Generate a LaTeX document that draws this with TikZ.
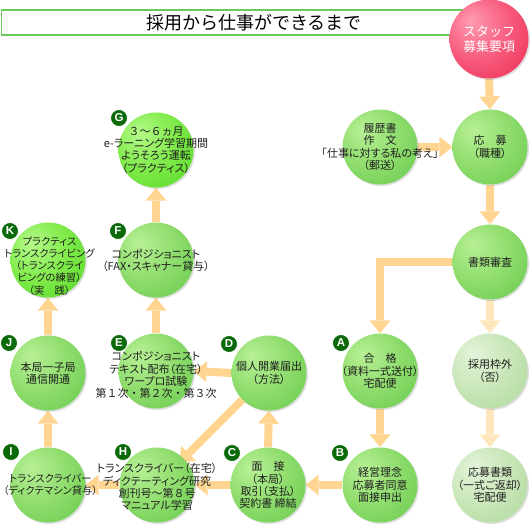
\documentclass[tikz,border=0pt]{standalone}
\usepackage{fontspec}
\setmainfont{Noto Sans CJK JP}
\newfontfamily\jpp[RawFeature=+palt]{Noto Sans CJK JP}
\newfontfamily\jpf{Noto Sans CJK JP}
\newfontfamily\badgefont{Liberation Sans}
\usetikzlibrary{arrows.meta,shadows,backgrounds}
\definecolor{g1}{HTML}{B8F096}
\definecolor{g2}{HTML}{8EDC6C}
\definecolor{g3}{HTML}{55C23E}
\definecolor{b1}{HTML}{B6FA8A}
\definecolor{b2}{HTML}{7EEA48}
\definecolor{b3}{HTML}{44D018}
\definecolor{p1}{HTML}{E4F4DA}
\definecolor{p2}{HTML}{C8E6B8}
\definecolor{p3}{HTML}{A2D28C}
\definecolor{r1}{HTML}{FF9AB0}
\definecolor{r2}{HTML}{F75A7C}
\definecolor{r3}{HTML}{E8163E}
\definecolor{arrc}{HTML}{FFD591}
\definecolor{arrp}{HTML}{FFE6BC}
\definecolor{badgec}{HTML}{0A6A0A}
\definecolor{framec}{HTML}{66CC55}
\pgfdeclareradialshading{gball}{\pgfpoint{-12bp}{12bp}}{color(0bp)=(g1); color(22bp)=(g2); color(52bp)=(g3); color(70bp)=(g3)}
\pgfdeclareradialshading{bball}{\pgfpoint{-12bp}{12bp}}{color(0bp)=(b1); color(22bp)=(b2); color(52bp)=(b3); color(70bp)=(b3)}
\pgfdeclareradialshading{pball}{\pgfpoint{-12bp}{12bp}}{color(0bp)=(p1); color(22bp)=(p2); color(52bp)=(p3); color(70bp)=(p3)}
\pgfdeclareradialshading{rball}{\pgfpoint{-12bp}{12bp}}{color(0bp)=(r1); color(22bp)=(r2); color(52bp)=(r3); color(70bp)=(r3)}
\tikzset{
  ballbase/.style={circle, minimum size=75pt, inner sep=0pt, shade,
    drop shadow={shadow xshift=1.5pt, shadow yshift=-1.5pt, opacity=0.25}},
  gball/.style={ballbase, shading=gball},
  bball/.style={ballbase, shading=bball},
  pball/.style={ballbase, shading=pball},
  rball/.style={ballbase, shading=rball, minimum size=79pt},
  txt/.style={align=center, font=\jpp\fontsize{11}{12.2}\selectfont, text=black!88, inner sep=0pt},
  txtsmall/.style={txt, font=\jpp\fontsize{10.3}{12.2}\selectfont},
  badge/.style={circle, fill=badgec, draw=white, line width=0.8pt, minimum size=17pt,
    inner sep=0pt, text=white, font=\badgefont\bfseries\fontsize{11.5}{11.5}\selectfont},
  arr/.style={draw=arrc, line width=8pt, -{Triangle[width=21pt,length=13pt,line width=0pt]}},
  arrpale/.style={arr, draw=arrp},
}
\begin{document}
\begin{tikzpicture}[x=1pt,y=-1pt]
\useasboundingbox (0,0) rectangle (530,526);
% title
\node[draw=framec, line width=1.2pt, minimum width=510pt, minimum height=25pt, inner sep=0pt,
  anchor=west] (title) at (0.6,22.5) {};
\node[font=\fontsize{18}{18}\selectfont, inner sep=0pt] (titletxt) at (254,22.5) {採用から仕事ができるまで};
% circles
\node[rball] (boshu) at (489,39) {};
\node[gball] (rireki) at (380,147) {};
\node[gball] (oubo) at (490,147) {};
\node[gball] (shorui) at (490,262) {};
\node[pball] (waku) at (490,371) {};
\node[pball] (henkyaku) at (490,485) {};
\node[gball] (gokaku) at (380,371) {};
\node[gball] (keiei) at (380,485) {};
\node[gball] (mensetsu) at (268,485) {};
\node[gball] (kaigyo) at (269,373) {};
\node[gball] (textc) at (156,371) {};
\node[gball] (compo) at (156,260) {};
\node[bball] (elearn) at (156,150) {};
\node[gball] (trans) at (157,485) {};
\node[gball] (transk) at (48,485) {};
\node[gball] (tsushin) at (48,373) {};
\node[bball] (practice) at (48,260) {};
% arrows
\begin{scope}[on background layer]
\draw[arr] (boshu.south) -- (oubo.north);
\draw[arr] (rireki.east) -- (oubo.west);
\draw[arr] (oubo.south) -- (shorui.north);
\draw[arr] (shorui.west) -| (gokaku.north);
\draw[arrpale] (shorui.south) -- (waku.north);
\draw[arrpale] (waku.south) -- (henkyaku.north);
\draw[arr] (gokaku.south) -- (keiei.north);
\draw[arr] (keiei.west) -- (mensetsu.east);
\draw[arr] (mensetsu.north) -- (kaigyo.south);
\draw[arr] (kaigyo.west) -- (textc.east);
\draw[arr, shorten >=-6pt] (kaigyo.south west) -- (trans.north east);
\draw[arr] (mensetsu.west) -- (trans.east);
\draw[arr] (trans.west) -- (transk.east);
\draw[arr] (transk.north) -- (tsushin.south);
\draw[arr] (tsushin.north) -- (practice.south);
\draw[arr] (textc.north) -- (compo.south);
\draw[arr] (compo.north) -- (elearn.south);
\end{scope}
% texts
\node[txt, text=white, font=\fontsize{13}{15}\selectfont] (tboshu) at (boshu.center) {スタッフ\\募集要項};
\node[txt] (trireki) at (rireki.center) {履歴書\\作　文\\「仕事に対する私の考え」\\（郵送）};
\node[txt] (toubo) at (oubo.center) {応　募\\（職種）};
\node[txt] (tshorui) at (shorui.center) {書類審査};
\node[txt] (twaku) at (waku.center) {採用枠外\\（否）};
\node[txt] (thenkyaku) at (henkyaku.center) {応募書類\\（一式ご返却）\\宅配便};
\node[txt] (tgokaku) at (gokaku.center) {合　格\\（資料一式送付）\\宅配便};
\node[txt] (tkeiei) at (keiei.center) {経営理念\\応募者同意\\面接申出};
\node[txt] (tmensetsu) at (mensetsu.center) {面　接\\（本局）\\取引（支払）\\契約書 締結};
\node[txt] (tkaigyo) at (kaigyo.center) {個人開業届出\\（方法）};
\node[txt] (ttextc) at ([yshift=-4pt]textc.center) {コンポジショニスト\\テキスト配布（在宅）\\ワープロ試験\\{\jpf 第１次・第２次・第３次}};
\node[txt] (tcompo) at (compo.center) {コンポジショニスト\\（FAX・スキャナー貸与）};
\node[txt] (telearn) at (elearn.center) {{\jpf ３～６ヵ月}\\e-ラーニング学習期間\\ようそろう運転\\（プラクティス）};
\node[txt] (ttrans) at ([yshift=-2pt]trans.center) {トランスクライバー（在宅）\\ディクテーティング研究\\{\jpf 創刊号～第８号}\\マニュアル学習};
\node[txtsmall] (ttransk) at ([xshift=2.5pt]transk.center) {トランスクライバー\\（ディクテマシン貸与）};
\node[txt] (ttsushin) at (tsushin.center) {本局一子局\\通信開通};
\node[txtsmall] (tpractice) at ([xshift=1.5pt,yshift=-6pt]practice.center) {プラクティス\\トランスクライビング\\（トランスクライ\\ビングの練習）\\（実　践）};
% badges
\node[badge] (bA) at (341,343) {A};
\node[badge] (bB) at (340,453) {B};
\node[badge] (bC) at (232,453) {C};
\node[badge] (bD) at (229,344) {D};
\node[badge] (bE) at (119,343) {E};
\node[badge] (bF) at (118,231) {F};
\node[badge] (bG) at (119,118) {G};
\node[badge] (bH) at (123,452) {H};
\node[badge] (bI) at (11,452) {I};
\node[badge] (bJ) at (9,343) {J};
\node[badge] (bK) at (10,231) {K};
\end{tikzpicture}
\end{document}
